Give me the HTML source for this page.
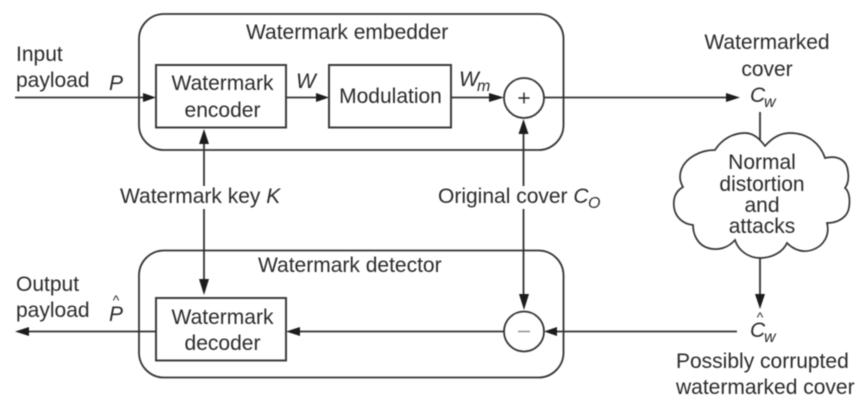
<!DOCTYPE html>
<html><head><meta charset="utf-8"><style>
html,body{margin:0;padding:0;background:#fff;width:862px;height:403px;overflow:hidden}
svg{display:block;filter:blur(.45px)}
text{font-family:"Liberation Sans",sans-serif;font-size:21px;fill:#2a2a2a}
.i{font-style:italic}
.s{font-size:16px;font-style:italic}
.l{fill:none;stroke:#333;stroke-width:1.8}
.t{fill:none;stroke:#3c3c3c;stroke-width:2}
.a{fill:#1c1c1c}
</style></head><body>
<svg width="862" height="403" viewBox="0 0 862 403" xmlns="http://www.w3.org/2000/svg">
<rect class="l" x="139" y="14" width="424.500" height="136" rx="25"/>
<rect class="l" x="139" y="250.500" width="424.500" height="127" rx="25"/>
<rect class="t" x="156" y="65" width="130" height="62.500"/>
<rect class="t" x="329" y="65" width="122" height="62.500"/>
<rect class="t" x="156" y="298" width="130" height="62.500"/>
<circle class="l" cx="524" cy="98" r="20"/>
<circle class="l" cx="524" cy="331.500" r="20"/>
<path class="l" d="M15 97.500H146M286 97.500H320M451 97.500H496M544 97.500H730M204 140V186M204 209V285M523.500 132V186M523.500 209V300M760 112V140M760 257V298M25 331.500H156M296 331.500H504M554 331.500H737"/>
<path class="a" d="M156 97.500L143 93V102ZM329 97.500L316 93V102ZM504 97.500L489 93V102ZM740 97.500L726 93V102ZM204 129L199 144H209ZM523.500 119L518.500 134H528.500ZM204 295L199 279H209ZM524 310L519 294H529ZM760 309L755 294H765ZM15 331.500L29 327V336ZM286 331.500L300 327V336ZM544 331.500L557 327V336Z"/>
<path fill="#fff" stroke="#333" stroke-width="1.7" d="M765 146C772 138 780 133 790 133C807 133 820 143 825 158C838 155 847 160 848 172C849 179 848 184 845 188C851 193 851 210 845 216C840 221 834 223 827 223C830 235 824 246 812 250C803 253 794 250 787 243C783 252 772 258 760 258C748 258 738 250 735 240C728 248 718 251 708 248C698 245 693 235 693 225C682 224 675 216 674 207C673 198 676 191 683 187C676 175 682 162 695 155C702 151 709 150 715 150C722 139 733 133 745 133C753 133 760 139 765 146Z"/>
<path d="M518.500 98H529.500M524 92.500V103.500" stroke="#222" stroke-width="1.400" fill="none"/>
<path d="M518 331.500H530" stroke="#888" stroke-width="1.400" fill="none"/>
<text x="246" y="39">Watermark embedder</text>
<text x="258" y="272">Watermark detector</text>
<text x="16" y="61">Input</text>
<text x="16" y="87">payload</text>
<text class="i" x="109" y="90">P</text>
<text x="222.500" y="90" text-anchor="middle">Watermark</text>
<text x="222.500" y="117" text-anchor="middle">encoder</text>
<text class="i" x="296" y="88">W</text>
<text x="390.500" y="103" text-anchor="middle">Modulation</text>
<text class="i" x="459" y="86">W</text>
<text class="s" x="477" y="91">m</text>
<text x="767" y="49" text-anchor="middle">Watermarked</text>
<text x="767" y="76" text-anchor="middle">cover</text>
<text class="i" x="750" y="102">C</text>
<text class="s" x="764" y="107">w</text>
<text x="120" y="203">Watermark key <tspan class="i">K</tspan></text>
<text x="438" y="203">Original cover <tspan class="i">C</tspan></text>
<text class="s" x="588" y="208">O</text>
<text x="762" y="169" text-anchor="middle">Normal</text>
<text x="762" y="191" text-anchor="middle">distortion</text>
<text x="762" y="212" text-anchor="middle">and</text>
<text x="762" y="233" text-anchor="middle">attacks</text>
<text x="16" y="291">Output</text>
<text x="16" y="317">payload</text>
<text class="i" x="109" y="321">P</text>
<text x="116" y="305" text-anchor="middle" style="font-size:14px">^</text>
<text x="222.500" y="324" text-anchor="middle">Watermark</text>
<text x="222.500" y="350" text-anchor="middle">decoder</text>
<text class="i" x="750" y="337">C</text>
<text x="760" y="322" text-anchor="middle" style="font-size:14px">^</text>
<text class="s" x="764" y="342">w</text>
<text x="676" y="368">Possibly corrupted</text>
<text x="676" y="394">watermarked cover</text>
</svg>
</body></html>
